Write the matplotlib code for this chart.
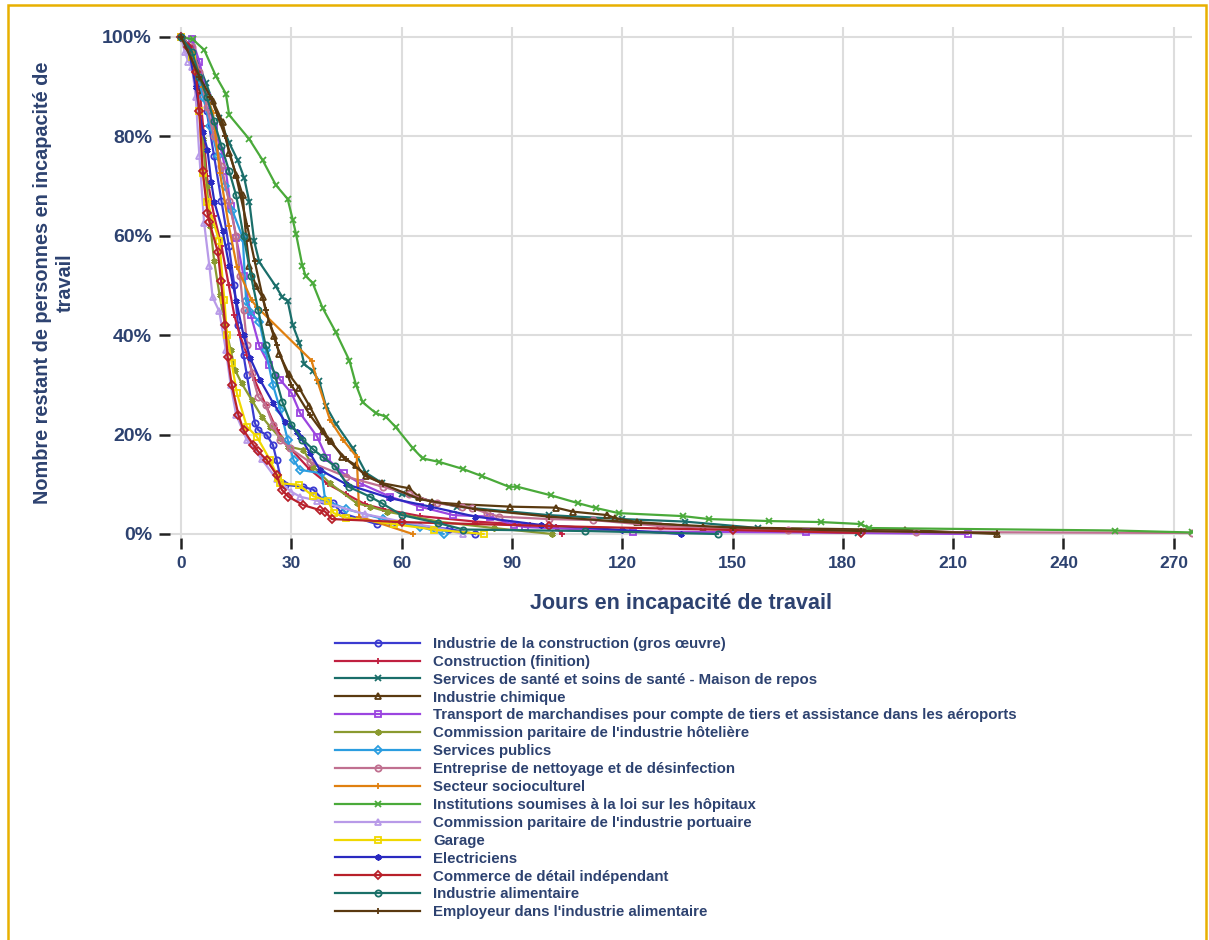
import matplotlib
matplotlib.use('Agg')
import matplotlib.pyplot as plt
from matplotlib.patches import Rectangle
from matplotlib.ticker import PercentFormatter

plt.rcParams['font.family'] = ['Liberation Sans', 'DejaVu Sans']
plt.rcParams['font.weight'] = 'bold'

TXT = '#2d4270'

# ---- data (days, % still incapacitated) ----
gros_oeuvre_x = [0, 3, 5, 7, 9, 11, 13, 14.5, 15.5, 17, 17.9, 20.1, 21, 23.3, 25, 26, 27.4, 28.3, 33.2, 36, 38.7, 41.4, 43.7, 53.2, 57.3, 73, 80]
gros_oeuvre_y = [100, 97, 92, 85, 76, 67, 58, 50, 42, 36, 32, 22.3, 20.9, 19.9, 17.9, 14.9, 10.2, 9.9, 9.5, 8.9, 6.8, 6.2, 4.2, 2.0, 2.2, 1.0, 0]

finition_x = [0, 3, 5, 6, 7, 9, 11, 13, 14.5, 16, 18, 20, 23, 26, 30, 35, 40, 45, 50, 55, 65, 80, 95, 102, 103.5]
finition_y = [100, 96, 90, 82, 72, 64, 58, 50, 44, 40, 36, 31, 26, 21, 17, 13, 10, 8, 6, 5, 3.6, 2.5, 1.8, 1.5, 0]

sante_x = [0, 3, 6.8, 10.4, 13.1, 15.4, 17.2, 18.6, 19.9, 21.3, 25.8, 27.6, 29, 30.4, 32.2, 33.5, 35.8, 37.6, 39.4, 42.1, 46.7, 50.3, 54.8, 60, 75, 100, 120, 137, 157, 184]
sante_y = [100, 98, 90.7, 83.6, 78.7, 75.2, 71.6, 66.7, 58.9, 54.7, 49.8, 47.6, 46.9, 42, 38.5, 34.2, 32.8, 30.7, 25.8, 22.2, 17.3, 12.3, 10.2, 8, 5.5, 3.8, 3.0, 2.5, 1.2, 0.2]

chimique_x = [0, 3, 5, 8.6, 11.3, 13.1, 15, 16.8, 17.7, 18.6, 20.4, 22.2, 24, 25.4, 26.7, 29.4, 32.2, 34.9, 38.5, 40.8, 43.9, 47.6, 50.3, 54.8, 62, 64.8, 68.4, 75.7, 89.5, 102, 106.5, 116, 118, 124, 142, 197, 222]
chimique_y = [100, 98, 89.3, 87.2, 82.9, 76.6, 72.3, 68.1, 59.6, 54, 49.8, 47.6, 42.7, 39.9, 36.3, 32.1, 29.3, 25.8, 20.8, 18.7, 15.5, 13.8, 11.6, 10.2, 9.2, 7.4, 6.4, 6.0, 5.5, 5.3, 4.5, 3.8, 3.2, 2.4, 1.4, 0.8, 0]

transport_x = [0, 3, 5, 7, 9, 11, 12.2, 13.5, 15, 17, 19, 21.3, 24, 27, 30.1, 32.4, 37, 39.7, 44.2, 48.7, 56.9, 65, 74, 84, 90.5, 93.6, 123, 170, 214]
transport_y = [100, 99.5, 95, 88, 82, 77, 73, 66, 59.6, 52, 44, 37.8, 34, 31, 28.3, 24.3, 19.6, 15.2, 12.2, 10.2, 7.5, 5.5, 3.8, 3.5, 1.8, 1.4, 0.5, 0.3, 0]

hoteliere_x = [0, 2, 4, 5.9, 7, 8, 9, 10.5, 12, 13.5, 14.7, 16.5, 19.2, 22, 24.2, 27, 29.2, 33.3, 36, 40.5, 47.8, 51.4, 56, 70, 85, 101]
hoteliere_y = [100, 97, 90, 79.4, 70, 62, 55, 48, 42, 37, 33, 30.3, 27, 23.6, 21.6, 19.3, 17.6, 16.9, 13.5, 10.2, 6.2, 5.5, 4.5, 2.5, 1.2, 0]

publics_x = [0, 3, 6, 8, 10, 12, 14, 16.8, 17.7, 18.6, 21.3, 23, 25, 27, 29, 30.6, 32.4, 38.3, 39.2, 45, 55, 65, 71.4]
publics_y = [100, 96, 88, 82, 76, 70, 65, 59.6, 46.9, 44.8, 42.7, 37, 30, 25, 19, 14.9, 12.9, 12.2, 6.8, 5, 3, 1.5, 0]

nettoyage_x = [0, 3, 5, 7, 9, 11, 13, 15, 16, 17, 18, 19.2, 21, 23, 25, 27, 29.7, 35, 45, 55, 62, 69.6, 76.4, 79.2, 83.2, 86.4, 100, 112, 130.4, 165, 200, 275]
nettoyage_y = [100, 98, 93, 86, 80, 74, 67, 60, 52, 45, 38, 32.4, 27.6, 26, 22, 19, 17.2, 14.5, 11.5, 9.5, 8, 6.2, 5.5, 5.2, 4.2, 3.5, 3.0, 2.8, 1.6, 0.8, 0.4, 0.2]

socio_x = [0, 3, 6, 8.7, 10.6, 13, 15.2, 19.2, 20.6, 35.5, 37, 40.5, 44, 47.8, 48.5, 63]
socio_y = [100, 97, 90, 84.7, 72.6, 62, 53.8, 47, 45.7, 34.9, 31, 23, 19, 15.5, 3.5, 0]

hopitaux_x = [0, 3.2, 6.3, 9.5, 12.2, 13.1, 18.6, 22.2, 25.8, 29, 30.4, 31.3, 33, 33.9, 35.8, 38.5, 42.1, 45.8, 47.6, 49.4, 53, 55.7, 58.4, 63, 65.7, 70.2, 76.6, 82, 89.2, 91.5, 100.5, 108, 113, 119, 136.5, 143.6, 160, 174, 185, 187, 254, 275]
hopitaux_y = [100, 99.5, 97.4, 92.1, 88.6, 84.3, 79.4, 75.2, 70.2, 67.4, 63.2, 60.3, 54, 51.9, 50.5, 45.5, 40.6, 34.9, 30, 26.5, 24.3, 23.6, 21.5, 17.3, 15.2, 14.5, 13.1, 11.6, 9.5, 9.5, 7.8, 6.2, 5.2, 4.2, 3.6, 3.0, 2.6, 2.4, 2.0, 1.2, 0.7, 0.3]

portuaire_x = [0, 1, 2, 3, 4, 5, 6.3, 7.7, 8.6, 10.4, 12.2, 13.5, 15, 17.9, 22, 26, 30, 32.4, 37, 50, 60, 70, 76.8]
portuaire_y = [100, 97, 95, 94, 88, 76, 62.5, 54, 47.6, 44.8, 37, 30, 24, 18.9, 15, 11, 8.5, 7.5, 6.7, 4, 2.5, 1.2, 0]

garage_x = [0, 3, 5, 5.9, 7.2, 10.4, 11.8, 12.5, 13.8, 15.2, 17.9, 20.6, 24.2, 26.5, 27, 32, 36, 40, 41.5, 45, 57.8, 68.7, 82.3]
garage_y = [100, 96, 85, 72.7, 66.7, 58.9, 47, 40, 34.3, 28.3, 21.6, 19.6, 14.9, 11.2, 10.2, 9.9, 7.6, 6.7, 4.2, 3.3, 2.0, 0.9, 0]

electriciens_x = [0, 2, 4, 5.9, 7.2, 8.2, 9.1, 11.3, 13.1, 15, 17, 18.8, 21.5, 25.1, 28.3, 31.5, 32.4, 35.1, 37.8, 45, 56.9, 67.8, 80, 98, 120, 136]
electriciens_y = [100, 98, 90, 80.8, 77.3, 70.9, 66.7, 61, 54, 46.9, 40, 35.4, 31, 26.3, 22.6, 20.6, 19.6, 16.2, 12.9, 10, 7.2, 5.5, 3.5, 1.8, 0.8, 0]

commerce_x = [0, 2, 4, 5, 5.9, 7.2, 7.7, 10, 10.9, 12, 12.7, 13.8, 15.6, 17, 19.7, 21, 23.3, 26, 27.4, 29.2, 33.3, 37.8, 39.2, 41, 60, 100, 150, 185]
commerce_y = [100, 98, 93, 85, 73, 64.6, 62.8, 56.8, 50.8, 42, 35.6, 30, 24, 20.9, 17.9, 16.6, 14.9, 11.9, 8.9, 7.5, 5.8, 4.8, 4.5, 3.0, 2.4, 1.6, 0.8, 0.2]

alimentaire_x = [0, 3, 5, 7, 9, 11, 13.1, 15, 17, 19, 21, 23, 25.5, 27.6, 30, 33, 36, 38.5, 41.9, 45.6, 51.4, 54.6, 60, 70, 76.8, 110, 146]
alimentaire_y = [100, 97, 92, 88, 83, 78, 73, 68.1, 60, 52, 45, 38, 32, 26.5, 22, 19, 17, 15.5, 13.6, 9.5, 7.5, 6.2, 3.8, 2.2, 0.9, 0.6, 0]

employeur_x = [0, 5, 8, 12, 15, 18, 20, 23, 26, 30, 35, 40, 45, 50, 55, 65, 80, 100, 125, 150, 185, 222]
employeur_y = [100, 92, 88, 80, 72, 62, 55, 45, 38, 30, 24, 19, 15, 12, 10, 7, 5, 3.5, 2.2, 1.3, 0.6, 0.2]

labels = [
    "Industrie de la construction (gros œuvre)",
    "Construction (finition)",
    "Services de santé et soins de santé - Maison de repos",
    "Industrie chimique",
    "Transport de marchandises pour compte de tiers et assistance dans les aéroports",
    "Commission paritaire de l'industrie hôtelière",
    "Services publics",
    "Entreprise de nettoyage et de désinfection",
    "Secteur socioculturel",
    "Institutions soumises à la loi sur les hôpitaux",
    "Commission paritaire de l'industrie portuaire",
    "Garage",
    "Electriciens",
    "Commerce de détail indépendant",
    "Industrie alimentaire",
    "Employeur dans l'industrie alimentaire",
]

xs = [gros_oeuvre_x, finition_x, sante_x, chimique_x, transport_x, hoteliere_x, publics_x, nettoyage_x,
      socio_x, hopitaux_x, portuaire_x, garage_x, electriciens_x, commerce_x, alimentaire_x, employeur_x]
ys = [gros_oeuvre_y, finition_y, sante_y, chimique_y, transport_y, hoteliere_y, publics_y, nettoyage_y,
      socio_y, hopitaux_y, portuaire_y, garage_y, electriciens_y, commerce_y, alimentaire_y, employeur_y]

colors = ['#3b3bd0', '#c02040', '#1a6e6a', '#5a3a10', '#9b45e0', '#8a9a30', '#2b9de0', '#c07090',
          '#e08010', '#4aaa3a', '#b89ae8', '#f0d800', '#2a2ac0', '#b8202a', '#1a7068', '#5a3810']
markers = ['o', '+', 'x', '^', 's', (6, 2, 0), 'D', 'o', '+', 'x', '^', 's', (6, 2, 0), 'D', 'o', '+']

fig = plt.figure(figsize=(12.09, 9.40), dpi=100)
ax = fig.add_axes([0.1406, 0.4277, 0.8454, 0.5436])

for x, y, lab, c, m in zip(xs, ys, labels, colors, markers):
    ax.plot(x, y, color=c, lw=1.6, marker=m, markersize=4.5, markerfacecolor='none',
            markeredgewidth=1.3, label=lab)

ax.set_xlim(-3, 275)
ax.set_ylim(-0.8, 102)
ax.set_xticks(range(0, 271, 30))
ax.set_yticks(range(0, 101, 20))
ax.yaxis.set_major_formatter(PercentFormatter(decimals=0))
ax.grid(True, color='#dddddd', lw=1.5)
ax.set_axisbelow(True)
for s in ax.spines.values():
    s.set_visible(False)
ax.tick_params(axis='both', colors='#222222', width=1.8, length=8, labelcolor=TXT)
ax.tick_params(axis='x', labelsize=12.5, pad=5)
ax.tick_params(axis='y', labelsize=14, pad=5)
for t in ax.get_xticklabels() + ax.get_yticklabels():
    t.set_fontweight('bold')

ax.set_xlabel('Jours en incapacité de travail', fontsize=15.5, fontweight='bold', color=TXT, labelpad=16)
ax.set_ylabel("Nombre restant de personnes en incapacité de\ntravail", fontsize=14.3,
              fontweight='bold', color=TXT, labelpad=20)

leg = fig.legend(loc='upper left', bbox_to_anchor=(0.277, 0.3225), frameon=False,
                 prop={'size': 10.8, 'weight': 'bold'}, handlelength=5.7, handletextpad=0.85,
                 labelspacing=0.26, borderpad=0, borderaxespad=0)
for t in leg.get_texts():
    t.set_color(TXT)

# golden frame around the figure
fig.patches.append(Rectangle((8 / 1209, -0.05), 1198 / 1209, 1.05 - 5 / 940, transform=fig.transFigure,
                             fill=False, edgecolor='#e8b000', lw=1.8))

fig.savefig('out.png', dpi=100)
